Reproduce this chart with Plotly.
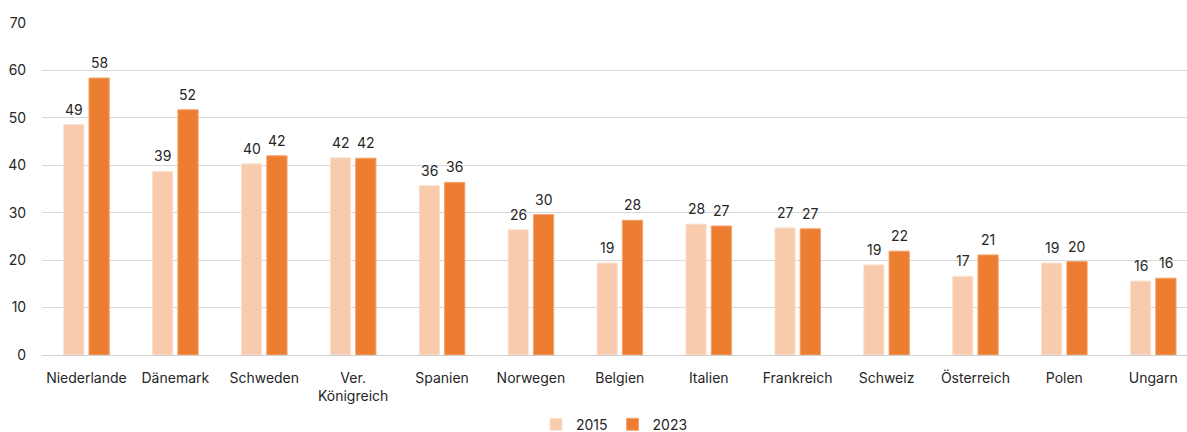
import plotly.graph_objects as go

countries = ["Niederlande", "Dänemark", "Schweden", "Ver.<br>Königreich", "Spanien", "Norwegen",
             "Belgien", "Italien", "Frankreich", "Schweiz", "Österreich", "Polen", "Ungarn"]
v2015 = [48.6, 38.7, 40.3, 41.6, 35.7, 26.4, 19.4, 27.6, 26.8, 19.0, 16.6, 19.4, 15.6]
v2023 = [58.4, 51.7, 42.0, 41.5, 36.4, 29.6, 28.4, 27.2, 26.6, 21.9, 21.1, 19.7, 16.2]
y_ticks = [0, 10, 20, 30, 40, 50, 60, 70]

font_family = "Inter, Roboto, Arial, sans-serif"
text_color = "#262626"

fig = go.Figure()
fig.add_trace(go.Bar(
    x=countries, y=v2015, name="2015",
    marker=dict(color="#F8CBAD", line=dict(color="#FBE3D3", width=1)),
))
fig.add_trace(go.Bar(
    x=countries, y=v2023, name="2023",
    marker=dict(color="#ED7D31", line=dict(color="#F3A470", width=1)),
))

# data labels above each bar
for vals, shift in ((v2015, -12.6), (v2023, 12.6)):
    for c, v in zip(countries, vals):
        fig.add_annotation(x=c, y=v, text=str(int(v + 0.5)), showarrow=False,
                           xanchor="center", yanchor="bottom", xshift=shift, yshift=5,
                           font=dict(size=14, color=text_color, family=font_family))

fig.update_layout(
    width=1187, height=432,
    margin=dict(l=42, r=0, t=23, b=77, autoexpand=False),
    paper_bgcolor="white", plot_bgcolor="white",
    barmode="group", bargap=0.43, bargroupgap=0.2,
    font=dict(family=font_family, size=14, color=text_color),
    showlegend=True,
    legend=dict(orientation="h", x=0.5, xanchor="center", y=-0.21, yanchor="middle",
                font=dict(size=14, color=text_color), itemwidth=30, traceorder="normal"),
    xaxis=dict(range=[-0.5, 12.38], showgrid=False, showline=False, automargin=False,
               ticks="outside", ticklen=10, tickcolor="rgba(0,0,0,0)",
               tickfont=dict(size=14, color=text_color)),
    yaxis=dict(range=[0, 70], tickvals=y_ticks, showgrid=True, gridcolor="#D9D9D9", gridwidth=1,
               zeroline=True, zerolinecolor="#D0D0D0", zerolinewidth=1, automargin=False,
               ticks="outside", ticklen=12, tickcolor="rgba(0,0,0,0)",
               tickfont=dict(size=14, color=text_color)),
)

fig.write_html("out.html", config={"displayModeBar": False},
               post_script="document.body.style.margin='0';document.body.style.overflow='hidden';")
